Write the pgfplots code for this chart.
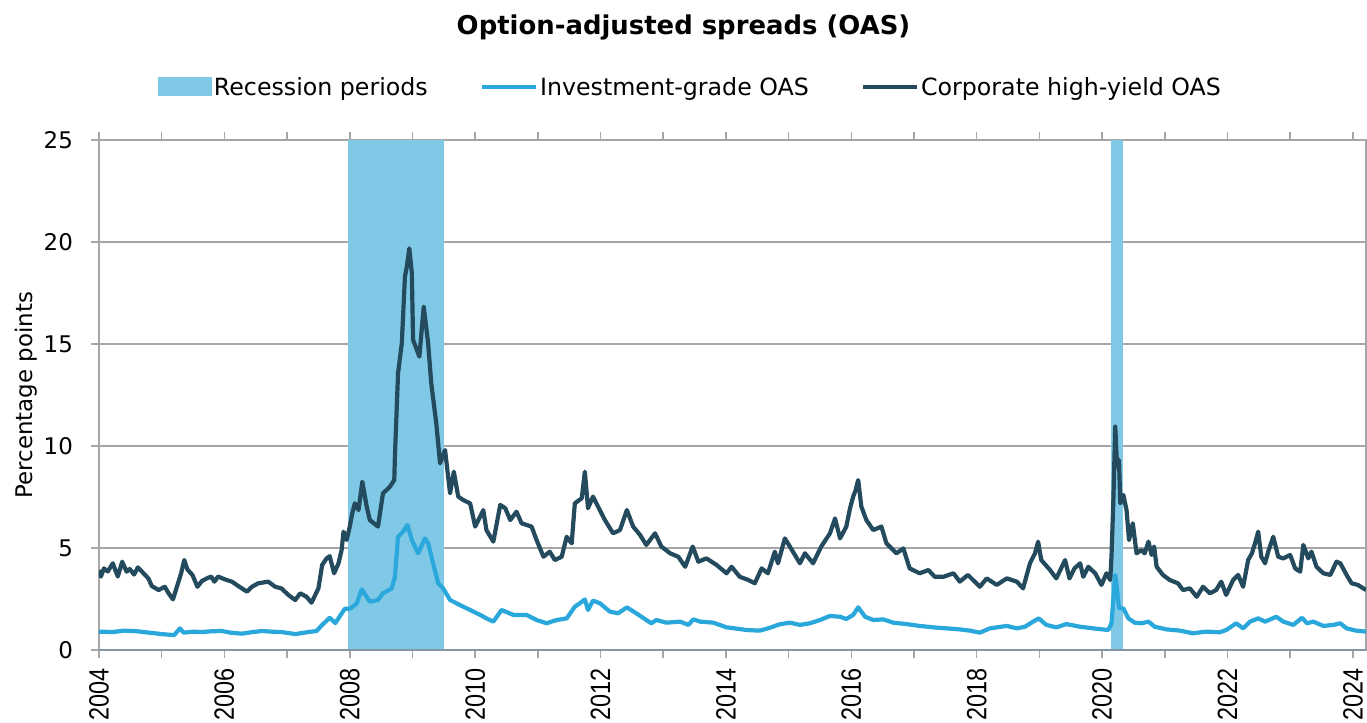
\documentclass[border=0pt]{standalone}
\usepackage{fontspec}
\setmainfont{DejaVu Sans}
\newfontfamily\arialfont{Liberation Sans}[FakeStretch=0.84]
\usepackage{pgfplots}
\pgfplotsset{compat=1.18}
\definecolor{hy}{HTML}{244A5E}
\definecolor{ig}{HTML}{2AA8DC}
\definecolor{rec}{HTML}{7FC8E6}
\definecolor{gridc}{HTML}{A6A6A6}
\definecolor{xaxc}{HTML}{8497A8}
\begin{document}
\begin{tikzpicture}
\begin{axis}[
 at={(0,0)}, anchor=south west,
 width=1267bp, height=510bp, scale only axis,
 xmin=2004, xmax=2024.21, ymin=0, ymax=25,
 xtick={2004,2006,...,2024},
 xticklabels={2004,2006,2008,2010,2012,2014,2016,2018,2020,2022,2024},
 minor xtick={2005,2007,...,2023},
 ytick={0,5,...,25},
 tick align=outside,
 major tick length=8bp, minor tick length=8bp,
 tick style={gridc, line width=1.5bp},
 ymajorgrids, grid style={gridc, line width=1.5bp},
 axis line style={gridc, line width=1.5bp},
 /pgf/number format/assume math mode=true,
 yticklabel style={font=\fontsize{23}{23}\selectfont, anchor=east, inner sep=0pt},
 yticklabel shift=18bp,
 xticklabel style={font=\arialfont\fontsize{28}{28}\selectfont, rotate=90, anchor=east, inner sep=0pt},
 xticklabel shift=10bp,
 legend style={at={(0.4668,1.104)}, anchor=center, draw=none, fill=none,
   legend columns=3, font=\fontsize{23.8}{24}\selectfont,
   /tikz/every even column/.append style={column sep=50bp},
   inner sep=0pt, nodes={inner sep=2bp}},
 legend cell align=left,
]
\addplot[fill=rec, draw=none,
  legend image code/.code={\fill[rec] (0bp,-9.5bp) rectangle (54bp,9.5bp);}]
  coordinates {(2007.97,0) (2007.97,25) (2009.50,25) (2009.50,0)} -- cycle;
\addlegendentry{Recession periods}
\addplot[fill=rec, draw=none, forget plot]
  coordinates {(2020.14,0) (2020.14,25) (2020.34,25) (2020.34,0)} -- cycle;
\addplot[ig, line width=4.2bp, line join=round,
  legend image code/.code={\draw[ig, line width=4.2bp] (0bp,0bp) -- (54bp,0bp);}]
 coordinates {
(2004.00,0.90) (2004.22,0.88) (2004.40,0.95) (2004.60,0.92) (2004.80,0.85)
(2005.00,0.78) (2005.20,0.73) (2005.29,1.06) (2005.35,0.85) (2005.50,0.90)
(2005.64,0.88) (2005.80,0.92) (2005.96,0.93) (2006.10,0.85) (2006.28,0.80)
(2006.45,0.88) (2006.60,0.93) (2006.75,0.90) (2006.91,0.88) (2007.13,0.78)
(2007.34,0.88) (2007.47,0.93) (2007.55,1.20) (2007.68,1.58) (2007.77,1.32)
(2007.92,2.02) (2008.00,2.02) (2008.11,2.27) (2008.19,2.97) (2008.27,2.60)
(2008.32,2.37) (2008.45,2.45) (2008.53,2.78) (2008.67,3.02) (2008.72,3.59)
(2008.77,5.55) (2008.85,5.80) (2008.92,6.13) (2008.99,5.39) (2009.09,4.74)
(2009.20,5.47) (2009.25,5.23) (2009.33,4.25) (2009.41,3.27) (2009.49,3.02)
(2009.60,2.45) (2009.76,2.20) (2009.92,1.96) (2010.08,1.72) (2010.18,1.55)
(2010.29,1.39) (2010.42,1.96) (2010.61,1.72) (2010.82,1.72) (2010.98,1.47)
(2011.14,1.31) (2011.30,1.47) (2011.46,1.55) (2011.59,2.12) (2011.67,2.29)
(2011.75,2.48) (2011.80,1.96) (2011.88,2.42) (2011.99,2.29) (2012.15,1.88)
(2012.28,1.80) (2012.42,2.09) (2012.57,1.80) (2012.73,1.47) (2012.81,1.31)
(2012.89,1.47) (2013.05,1.34) (2013.27,1.39) (2013.40,1.23) (2013.48,1.50)
(2013.59,1.39) (2013.80,1.34) (2014.01,1.11) (2014.14,1.06) (2014.33,0.98)
(2014.54,0.95) (2014.67,1.06) (2014.86,1.26) (2015.02,1.34) (2015.18,1.23)
(2015.34,1.31) (2015.50,1.47) (2015.66,1.67) (2015.82,1.63) (2015.92,1.52)
(2016.03,1.72) (2016.11,2.09) (2016.22,1.63) (2016.35,1.47) (2016.51,1.50)
(2016.67,1.34) (2016.88,1.27) (2017.09,1.18) (2017.31,1.11) (2017.52,1.06)
(2017.73,1.01) (2017.89,0.95) (2018.05,0.85) (2018.21,1.06) (2018.48,1.18)
(2018.64,1.06) (2018.77,1.14) (2018.90,1.39) (2018.99,1.55) (2019.11,1.23)
(2019.27,1.11) (2019.43,1.27) (2019.65,1.14) (2019.86,1.06) (2020.10,0.98)
(2020.15,1.31) (2020.21,3.68) (2020.24,2.94) (2020.27,2.04) (2020.34,2.04)
(2020.42,1.55) (2020.52,1.34) (2020.63,1.31) (2020.74,1.39) (2020.84,1.14)
(2021.03,1.01) (2021.24,0.95) (2021.45,0.82) (2021.66,0.90) (2021.88,0.87)
(2021.98,0.98) (2022.14,1.31) (2022.25,1.06) (2022.36,1.39) (2022.49,1.55)
(2022.60,1.39) (2022.78,1.63) (2022.89,1.39) (2023.05,1.23) (2023.19,1.58)
(2023.27,1.31) (2023.37,1.39) (2023.53,1.18) (2023.69,1.23) (2023.80,1.31)
(2023.90,1.06) (2024.05,0.95) (2024.21,0.90)
};
\addlegendentry{Investment-grade OAS}
\addplot[hy, line width=4.2bp, line join=round,
  legend image code/.code={\draw[hy, line width=4.2bp] (0bp,0bp) -- (54bp,0bp);}]
 coordinates {
(2004.00,3.92) (2004.03,3.60) (2004.08,4.00) (2004.14,3.85) (2004.22,4.25)
(2004.30,3.60) (2004.37,4.33) (2004.44,3.84) (2004.49,3.97) (2004.56,3.70)
(2004.62,4.05) (2004.71,3.76) (2004.79,3.50) (2004.84,3.14) (2004.95,2.94)
(2005.05,3.10) (2005.11,2.78) (2005.18,2.48) (2005.26,3.27) (2005.31,3.76)
(2005.36,4.41) (2005.41,3.95) (2005.49,3.68) (2005.57,3.10) (2005.64,3.38)
(2005.72,3.51) (2005.79,3.60) (2005.84,3.35) (2005.90,3.60) (2006.01,3.46)
(2006.12,3.35) (2006.22,3.14) (2006.36,2.86) (2006.44,3.10) (2006.54,3.27)
(2006.70,3.35) (2006.81,3.10) (2006.91,3.02) (2007.02,2.70) (2007.13,2.45)
(2007.21,2.78) (2007.31,2.61) (2007.39,2.32) (2007.45,2.70) (2007.50,3.02)
(2007.56,4.17) (2007.63,4.49) (2007.68,4.60) (2007.75,3.76) (2007.82,4.25)
(2007.87,4.90) (2007.90,5.80) (2007.95,5.39) (2008.00,6.05) (2008.04,6.70)
(2008.08,7.19) (2008.14,6.86) (2008.20,8.25) (2008.27,7.03) (2008.32,6.37)
(2008.45,6.05) (2008.53,7.68) (2008.64,8.00) (2008.71,8.33) (2008.72,9.48)
(2008.77,13.56) (2008.83,15.03) (2008.88,18.30) (2008.91,18.79) (2008.95,19.69)
(2008.99,18.47) (2009.01,15.20) (2009.11,14.38) (2009.18,16.83) (2009.25,15.03)
(2009.30,13.07) (2009.38,11.11) (2009.44,9.15) (2009.52,9.80) (2009.60,7.68)
(2009.66,8.74) (2009.73,7.52) (2009.81,7.35) (2009.92,7.19) (2010.00,6.05)
(2010.08,6.54) (2010.13,6.86) (2010.18,5.88) (2010.29,5.31) (2010.40,7.11)
(2010.48,6.95) (2010.56,6.37) (2010.66,6.78) (2010.74,6.21) (2010.90,6.05)
(2010.98,5.39) (2011.09,4.57) (2011.19,4.82) (2011.27,4.41) (2011.38,4.57)
(2011.46,5.55) (2011.54,5.23) (2011.59,7.19) (2011.70,7.44) (2011.75,8.74)
(2011.80,6.95) (2011.88,7.52) (2011.96,7.03) (2012.07,6.37) (2012.20,5.72)
(2012.31,5.88) (2012.42,6.86) (2012.52,6.05) (2012.63,5.64) (2012.73,5.15)
(2012.87,5.72) (2012.97,5.07) (2013.11,4.74) (2013.24,4.57) (2013.35,4.08)
(2013.47,5.07) (2013.56,4.33) (2013.69,4.49) (2013.85,4.17) (2014.01,3.76)
(2014.09,4.08) (2014.22,3.59) (2014.36,3.43) (2014.46,3.27) (2014.57,4.00)
(2014.67,3.76) (2014.78,4.82) (2014.83,4.25) (2014.94,5.47) (2015.02,5.07)
(2015.18,4.25) (2015.26,4.74) (2015.39,4.25) (2015.52,5.07) (2015.66,5.72)
(2015.74,6.45) (2015.82,5.47) (2015.92,6.05) (2015.98,6.95) (2016.03,7.52)
(2016.07,7.84) (2016.11,8.33) (2016.16,7.03) (2016.24,6.37) (2016.35,5.88)
(2016.48,6.05) (2016.56,5.23) (2016.72,4.74) (2016.83,4.98) (2016.93,4.00)
(2017.09,3.76) (2017.23,3.92) (2017.33,3.59) (2017.47,3.59) (2017.63,3.76)
(2017.73,3.35) (2017.86,3.68) (2018.05,3.10) (2018.16,3.51) (2018.32,3.19)
(2018.48,3.51) (2018.64,3.35) (2018.74,3.02) (2018.85,4.25) (2018.93,4.74)
(2018.98,5.31) (2019.03,4.41) (2019.17,3.92) (2019.27,3.51) (2019.41,4.41)
(2019.48,3.51) (2019.56,4.00) (2019.65,4.25) (2019.70,3.59) (2019.78,4.08)
(2019.89,3.76) (2019.99,3.19) (2020.07,3.76) (2020.13,3.43) (2020.15,4.57)
(2020.18,7.35) (2020.21,10.95) (2020.24,8.99) (2020.27,9.31) (2020.29,7.19)
(2020.34,7.60) (2020.39,6.86) (2020.43,5.39) (2020.49,6.21) (2020.55,4.74)
(2020.63,4.90) (2020.68,4.74) (2020.74,5.31) (2020.79,4.66) (2020.83,5.07)
(2020.87,4.08) (2020.97,3.68) (2021.08,3.43) (2021.21,3.27) (2021.29,2.94)
(2021.40,3.02) (2021.51,2.61) (2021.61,3.10) (2021.72,2.78) (2021.82,2.94)
(2021.90,3.35) (2021.98,2.70) (2022.09,3.43) (2022.17,3.68) (2022.25,3.10)
(2022.33,4.41) (2022.39,4.74) (2022.44,5.23) (2022.49,5.80) (2022.54,4.57)
(2022.60,4.25) (2022.65,4.82) (2022.73,5.55) (2022.81,4.57) (2022.89,4.49)
(2023.00,4.66) (2023.08,4.00) (2023.16,3.84) (2023.21,5.15) (2023.29,4.49)
(2023.34,4.82) (2023.42,4.08) (2023.53,3.76) (2023.64,3.68) (2023.74,4.33)
(2023.80,4.25) (2023.90,3.68) (2023.98,3.27) (2024.08,3.19) (2024.21,2.94)
};
\addlegendentry{Corporate high-yield OAS}
\draw[xaxc, line width=2bp] (rel axis cs:0,0) -- (rel axis cs:1,0);
\end{axis}
\node[font=\bfseries\fontsize{26}{26}\selectfont] at (584.5bp,623bp) {Option-adjusted spreads (OAS)};
\node[rotate=90, font=\fontsize{23}{23}\selectfont] at (-73bp,255bp) {Percentage points};
\pgfresetboundingbox
\path (-99bp,-73bp) rectangle (1268bp,650bp);
\end{tikzpicture}
\end{document}
